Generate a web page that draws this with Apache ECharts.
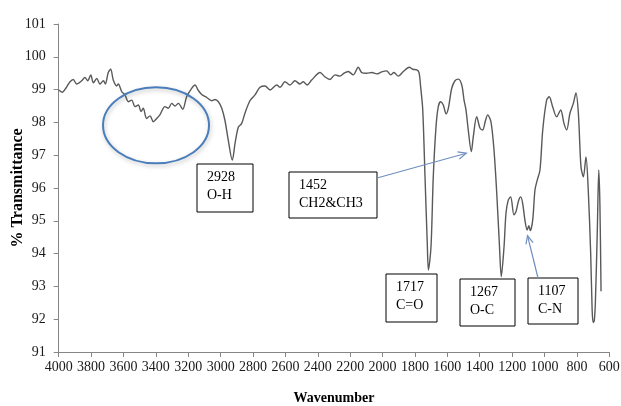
<!DOCTYPE html>
<html>
<head>
<meta charset="utf-8">
<script src="https://cdn.jsdelivr.net/npm/echarts@6/dist/echarts.min.js"></script>
<style>
  html, body { margin: 0; padding: 0; background: #fff; }
  #chart { width: 621px; height: 406px; }
</style>
</head>
<body>
<div id="chart"></div>
<script>
// FTIR spectrum: wavenumber (cm-1) against % transmittance
const wavenumber = [
  4000, 3978, 3955, 3930, 3910, 3889, 3858, 3838, 3821, 3802, 3786, 3765, 3745, 3724, 3712,
  3694, 3679, 3663, 3642, 3632, 3611, 3591, 3570, 3549, 3529, 3508, 3492, 3478, 3457, 3436,
  3416, 3395, 3375, 3344, 3323, 3302, 3282, 3261, 3234, 3210, 3179, 3158, 3140, 3117, 3086,
  3055, 3035, 3014, 2993, 2973, 2953, 2928, 2911, 2891, 2870, 2850, 2819, 2788, 2757, 2726,
  2695, 2654, 2633, 2603, 2572, 2541, 2510, 2490, 2465, 2438, 2386, 2356, 2325, 2294, 2263,
  2238, 2212, 2181, 2150, 2129, 2098, 2067, 2036, 2005, 1975, 1950, 1930, 1903, 1872, 1835,
  1814, 1789, 1775, 1765, 1752, 1738, 1724, 1717, 1701, 1687, 1670, 1656, 1641, 1625, 1608,
  1594, 1573, 1553, 1532, 1511, 1497, 1485, 1471, 1452, 1440, 1419, 1398, 1382, 1365, 1351,
  1331, 1312, 1295, 1279, 1267, 1250, 1238, 1224, 1209, 1189, 1176, 1160, 1147, 1135, 1121,
  1107, 1097, 1088, 1073, 1059, 1045, 1028, 1011, 987, 971, 950, 925, 900, 880, 863,
  843, 822, 806, 791, 775, 760, 744, 730, 715, 706, 700, 693, 686, 674, 665,
  658, 651
];
const transmittance = [
  98.99, 98.92, 99.05, 99.24, 99.31, 99.17, 99.27, 99.37, 99.27, 99.45, 99.21, 99.34, 99.17, 99.27, 99.17,
  99.52, 99.62, 99.29, 99.11, 99.17, 98.94, 98.84, 98.63, 98.68, 98.48, 98.53, 98.33, 98.43, 98.12, 98.20,
  98.02, 98.12, 98.23, 98.48, 98.43, 98.58, 98.50, 98.58, 98.40, 98.78, 99.04, 99.14, 98.99, 98.85, 98.76,
  98.66, 98.70, 98.63, 98.43, 98.05, 97.46, 96.85, 97.36, 97.85, 97.97, 98.28, 98.66, 98.84, 99.07, 99.11,
  98.99, 99.14, 99.07, 99.24, 99.14, 99.27, 99.17, 99.24, 99.14, 99.29, 99.52, 99.39, 99.31, 99.45, 99.41,
  99.50, 99.55, 99.45, 99.68, 99.52, 99.50, 99.52, 99.48, 99.54, 99.57, 99.45, 99.52, 99.41, 99.55, 99.68,
  99.62, 99.60, 99.52, 99.09, 98.38, 96.34, 94.31, 93.50, 94.21, 96.34, 97.87, 98.48, 98.63, 98.53, 98.26,
  98.43, 99.04, 99.27, 99.32, 99.14, 98.68, 98.38, 97.77, 97.11, 97.56, 98.17, 97.82, 97.77, 98.05, 98.23,
  98.02, 97.16, 95.84, 94.31, 93.30, 94.21, 95.23, 95.63, 95.73, 95.18, 95.28, 95.62, 95.73, 95.53, 95.02,
  94.72, 94.85, 94.70, 95.02, 95.94, 96.24, 96.55, 97.77, 98.68, 98.78, 98.48, 98.17, 98.38, 97.97, 97.77,
  98.28, 98.58, 98.90, 98.28, 96.65, 96.34, 96.95, 95.94, 94.01, 92.30, 91.90, 91.95, 92.50, 94.72, 96.55,
  95.50, 92.85
];
// Assigned absorption bands
const bandWavenumbers = [2928, 1452, 1717, 1267, 1107];
const bandGroups = ['O-H', 'CH2&CH3', 'C=O', 'O-C', 'C-N'];

const serif = '"Liberation Serif", "Times New Roman", serif';
const axisGrey = '#868686';

const chart = echarts.init(document.getElementById('chart'), null, { renderer: 'canvas' });

chart.setOption({
  animation: false,
  backgroundColor: '#fff',
  grid: { left: 58.7, right: 11.7, top: 24, bottom: 54, containLabel: false, outerBoundsMode: 'none' },
  xAxis: {
    type: 'value', inverse: true, min: 600, max: 4000, interval: 200,
    name: 'Wavenumber', nameLocation: 'middle', nameGap: 39,
    nameTextStyle: { fontFamily: serif, fontWeight: 'bold', fontSize: 14, color: '#000' },
    axisLine: { lineStyle: { color: axisGrey, width: 1 } },
    axisTick: { length: 5, lineStyle: { color: axisGrey } },
    axisLabel: { fontFamily: serif, fontSize: 14, color: '#1a1a1a', margin: 8,
                 formatter: v => String(v) },
    splitLine: { show: false }
  },
  yAxis: {
    type: 'value', min: 91, max: 101, interval: 1,
    name: '% Transmittance', nameLocation: 'middle', nameGap: 33, nameMoveOverlap: false,
    nameTextStyle: { fontFamily: serif, fontWeight: 'bold', fontSize: 16, color: '#000' },
    axisLine: { show: true, lineStyle: { color: axisGrey, width: 1 } },
    axisTick: { show: true, length: 5, lineStyle: { color: axisGrey } },
    axisLabel: { fontFamily: serif, fontSize: 14, color: '#1a1a1a', margin: 13 },
    splitLine: { show: false }
  },
  series: [{
    type: 'line',
    data: wavenumber.map((w, i) => [w, transmittance[i]]),
    showSymbol: false,
    smooth: 0.3,
    lineStyle: { color: '#595959', width: 1.4 },
    z: 2
  }]
});

// Annotation layer: band label boxes, pointer arrows and the O-H region ellipse
const toPx = (w, t) => chart.convertToPixel({ gridIndex: 0 }, [w, t]);
const arrowColor = '#6f8fbf';

function labelBox(x, y, w, h, lines) {
  return {
    type: 'group', x: x, y: y, z: 10,
    children: [
      { type: 'rect', shape: { x: 0, y: 0, width: w, height: h },
        style: { fill: '#fff', stroke: '#000', lineWidth: 1 } },
      { type: 'text', x: 10, y: 13, style: { text: lines[0], font: '14px ' + serif, fill: '#000', verticalAlign: 'middle' } },
      { type: 'text', x: 10, y: 31, style: { text: lines[1], font: '14px ' + serif, fill: '#000', verticalAlign: 'middle' } }
    ]
  };
}

function arrow(from, to) {
  const ang = Math.atan2(to[1] - from[1], to[0] - from[0]);
  const len = 9, spread = 0.42;
  const a1 = [to[0] - len * Math.cos(ang - spread), to[1] - len * Math.sin(ang - spread)];
  const a2 = [to[0] - len * Math.cos(ang + spread), to[1] - len * Math.sin(ang + spread)];
  return [
    { type: 'line', z: 9, shape: { x1: from[0], y1: from[1], x2: to[0], y2: to[1] },
      style: { stroke: arrowColor, lineWidth: 1.2 } },
    { type: 'polyline', z: 9, shape: { points: [a1, to, a2] },
      style: { stroke: arrowColor, lineWidth: 1.2, fill: null } }
  ];
}

const ohCentre = toPx(3399, 97.91);
const tipCH = toPx(1483, 97.06);
const tipCN = toPx(1105, 94.55);

const boxes = [
  [197, 164, 56, 48],
  [289, 172, 88, 46],
  [386, 274, 51, 48],
  [460, 279, 55, 47],
  [528, 278, 50, 46]
];

const elements = [
  { type: 'ellipse', z: 8,
    shape: { cx: ohCentre[0], cy: ohCentre[1], rx: 53, ry: 38 },
    style: { fill: null, stroke: '#4a7ebb', lineWidth: 2,
             shadowBlur: 4, shadowColor: 'rgba(0,0,0,0.25)', shadowOffsetX: 1, shadowOffsetY: 2 } }
];
boxes.forEach((b, i) => elements.push(labelBox(b[0], b[1], b[2], b[3], [String(bandWavenumbers[i]), bandGroups[i]])));
elements.push(...arrow([377, 178], tipCH));
elements.push(...arrow([538, 278], tipCN));

chart.setOption({ graphic: { elements: elements } });
</script>
</body>
</html>
